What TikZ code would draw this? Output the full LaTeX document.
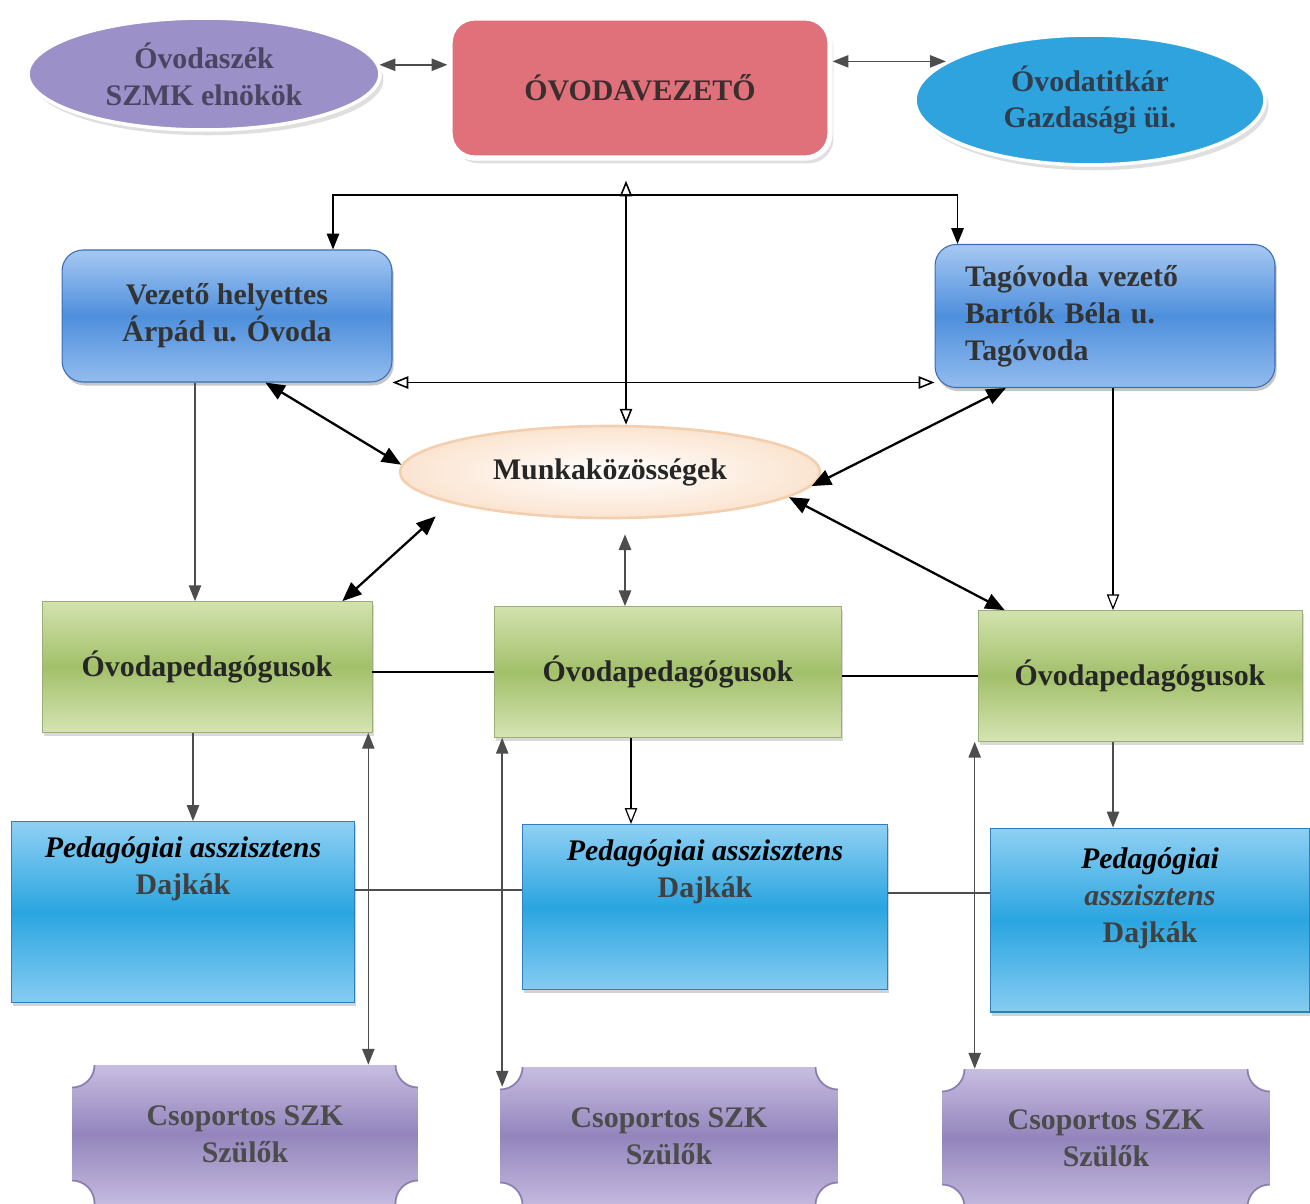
\documentclass[tikz,border=0pt]{standalone}
\usepackage{fontspec}
\setmainfont{Liberation Serif}
\usetikzlibrary{positioning,
        shapes,
        shadows,
        arrows.meta,
        calc}
\usepackage{xcolor}

\definecolor{szeklila}{HTML}{9C90C8}
\definecolor{szektext}{HTML}{4A4560}
\definecolor{vezred}{HTML}{E0717B}
\definecolor{veztext}{HTML}{3A2E2E}
\definecolor{titkkek}{HTML}{2FA3DD}
\definecolor{titktext}{HTML}{2E3E4E}
\definecolor{kektop}{HTML}{A6C8F2}
\definecolor{kekmid}{HTML}{4E8FDC}
\definecolor{kekbot}{HTML}{93BCEE}
\definecolor{kekedge}{HTML}{3A6DB5}
\definecolor{zoldtop}{HTML}{D3E2AE}
\definecolor{zoldmid}{HTML}{A2C06A}
\definecolor{zoldbot}{HTML}{D6E4B4}
\definecolor{zoldedge}{HTML}{9AAE78}
\definecolor{assztop}{HTML}{8FD0F3}
\definecolor{asszmid}{HTML}{2AA5E0}
\definecolor{asszbot}{HTML}{86CCF1}
\definecolor{asszedge}{HTML}{2F7FC0}
\definecolor{szulotop}{HTML}{C8BDE1}
\definecolor{szulomid}{HTML}{9385BC}
\definecolor{szulobot}{HTML}{C4B9DE}
\definecolor{szuloedge}{HTML}{8A7FB0}
\definecolor{munkaglow}{HTML}{FBE4D0}
\definecolor{munkaszel}{HTML}{F3CFAF}
\definecolor{vonal}{HTML}{4D4D4D}

\newcommand{\fent}[2]{\parbox[c][#1][t]{6.2cm}{\centering #2}}

\begin{document}
\begin{tikzpicture}[x=0.02cm, y=-0.02cm,
        every node/.style={font=\fontsize{17}{21}\selectfont\bfseries, align=center, inner sep=0pt},
        oval/.style={ellipse, draw=white, line width=2pt,
                drop shadow={opacity=0.25, shadow xshift=2pt, shadow yshift=-3pt}},
        fonok/.style={rectangle, rounded corners=14pt, fill=vezred, draw=white, line width=3pt,
                drop shadow={opacity=0.25, shadow xshift=2pt, shadow yshift=-3pt}},
        kekbox/.style={rectangle, rounded corners=12pt, draw=kekedge, line width=0.6pt,
                top color=kektop, bottom color=kekbot, middle color=kekmid, text=black!80,
                drop shadow={opacity=0.45, shadow xshift=1pt, shadow yshift=-2pt}},
        munkaoval/.style={ellipse, minimum width=8.4cm, minimum height=1.84cm,
                inner color=white, outer color=munkaglow, draw=munkaszel, line width=1.5pt, text=black!85},
        zoldbox/.style={rectangle, minimum height=2.62cm, draw=zoldedge, line width=0.4pt,
                top color=zoldtop, bottom color=zoldbot, middle color=zoldmid, text=black!85,
                drop shadow={opacity=0.3, shadow xshift=1pt, shadow yshift=-2pt}},
        asszbox/.style={rectangle, draw=asszedge, line width=0.6pt,
                top color=assztop, bottom color=asszbot, middle color=asszmid, text=black!75,
                drop shadow={opacity=0.35, shadow xshift=1pt, shadow yshift=-2pt}},
        szulobox/.style={rectangle, minimum height=2.76cm, draw=none,
                top color=szulotop, bottom color=szulobot, middle color=szulomid, text=black!70,
                path picture={\foreach \sarok in {north west, north east, south west, south east}
                        {\filldraw[fill=white, draw=szuloedge, line width=1pt]
                                (path picture bounding box.\sarok) circle[radius=0.45cm];}}},
        nyil/.style={draw=vonal, line width=0.8pt, -{Triangle[length=9pt, width=7pt]}},
        ketnyil/.style={draw=vonal, line width=0.8pt, {Triangle[length=9pt, width=7pt]}-{Triangle[length=9pt, width=7pt]}},
        feketenyil/.style={black, line width=1.3pt, {Triangle[length=11pt, width=9pt]}-{Triangle[length=11pt, width=9pt]}},
        uresnyil/.style={black, line width=0.7pt, -{Triangle[open, length=9pt, width=7pt]}},
        uresket/.style={black, line width=0.9pt, {Triangle[open, length=9pt, width=7pt]}-{Triangle[open, length=9pt, width=7pt]}},
        vonalka/.style={black, line width=1pt}]

        \useasboundingbox (0,0) rectangle (1310,1203);

        % vezetes
        \node [oval, fill=szeklila, minimum width=7.04cm, minimum height=2.24cm, text=szektext] (szek) at (204,74) {Óvodaszék\\SZMK elnökök};
        \node [fonok, minimum width=7.6cm, minimum height=2.8cm, text=veztext] (vez) at (640,88) {ÓVODAVEZETŐ};
        \node [oval, fill=titkkek, minimum width=7cm, minimum height=2.6cm, text=titktext] (titkar) at (1090,100) {Óvodatitkár\\Gazdasági üi.};

        \node [kekbox, minimum width=6.6cm, minimum height=2.64cm] (helyettes) at (227,316) {Vezető helyettes\\Árpád u. Óvoda};
        \node [kekbox, minimum width=6.8cm, minimum height=2.86cm, text width=5.6cm, align=left] (tag) at (1105,316) {Tagóvoda vezető\\Bartók Béla u.\\Tagóvoda};

        \node [munkaoval] (munka) at (610,472) {Munkaközösségek};

        % csoportok
        \node [zoldbox, minimum width=6.6cm] (ovp1) at (207,667) {Óvodapedagógusok};
        \node [zoldbox, minimum width=6.94cm] (ovp2) at (668,672) {Óvodapedagógusok};
        \node [zoldbox, minimum width=6.48cm] (ovp3) at (1140,676) {Óvodapedagógusok};

        \node [asszbox, minimum width=6.86cm, minimum height=3.62cm] (assz1) at (183,912) {\fent{3.0cm}{{\color{black}\itshape Pedagógiai asszisztens}\\Dajkák}};
        \node [asszbox, minimum width=7.3cm, minimum height=3.3cm] (assz2) at (705,907) {\fent{2.7cm}{{\color{black}\itshape Pedagógiai asszisztens}\\Dajkák}};
        \node [asszbox, minimum width=6.4cm, minimum height=3.68cm] (assz3) at (1150,920) {\fent{2.88cm}{{\color{black}\itshape Pedagógiai}\\{\itshape asszisztens}\\Dajkák}};

        \node [szulobox, minimum width=6.92cm] (szulo1) at (245,1134) {Csoportos SZK\\Szülők};
        \node [szulobox, minimum width=6.76cm] (szulo2) at (669,1136) {Csoportos SZK\\Szülők};
        \node [szulobox, minimum width=6.56cm] (szulo3) at (1106,1138) {Csoportos SZK\\Szülők};

        \draw [ketnyil] (szek.3) -- (szek.3 -| vez.west);
        \draw [ketnyil] (vez.east |- titkar.165) -- (titkar.165);

        \coordinate (split) at ($(vez.south)+(-14,34)$);
        \draw [uresket] ($(vez.south)+(-14,20)$) -- ($(vez.south |- munka.north)+(-14,0)$);
        \draw [vonalka, -{Triangle[length=9pt, width=7pt]}] (split) -| ($(helyettes.north)+(106,0)$);
        \draw [vonalka, -{Triangle[length=9pt, width=7pt]}] (split) -| ($(tag.north west)+(23,0)$);
        \draw [uresket] (helyettes.south east) -- (helyettes.south east -| tag.west);

        \draw [feketenyil] (helyettes.-60) -- (munka.178);
        \draw [feketenyil] (tag.216) -- (munka.-4);
        \draw [feketenyil] ($(ovp1.north east)+(-30,0)$) -- ($(munka.west |- munka.south)+(37,-3)$);
        \draw [ketnyil, line width=1.2pt] ($(munka.south)+(15,15)$) -- ($(munka.south |- ovp2.north)+(15,0)$);
        \draw [feketenyil] (munka.-8) -- ($(ovp3.north west)+(27,0)$);

        \draw [nyil] ($(helyettes.south)+(-32,0)$) -- ($(helyettes.south |- ovp1.north)+(-32,0)$);
        \draw [uresnyil] ($(tag.south)+(8,0)$) -- ($(tag.south |- ovp3.north)+(8,0)$);

        \draw [vonalka] (ovp2.west -| ovp1.east) -- (ovp2.west);
        \draw [vonalka] (ovp3.west -| ovp2.east) -- (ovp3.west);

        \draw [nyil] ($(ovp1.south)+(-14,0)$) -- ($(ovp1.south |- assz1.north)+(-14,0)$);
        \draw [uresnyil] ($(ovp2.south)+(-37,0)$) -- ($(ovp2.south |- assz2.north)+(-37,0)$);
        \draw [nyil] ($(ovp3.south)+(-27,0)$) -- ($(ovp3.south |- assz3.north)+(-27,0)$);

        \draw [draw=vonal, line width=1pt] ($(assz1.east)+(0,-22)$) -- ($(assz1.east -| assz2.west)+(0,-22)$);
        \draw [draw=vonal, line width=1pt] ($(assz2.east)+(0,-14)$) -- ($(assz2.east -| assz3.west)+(0,-14)$);

        \draw [ketnyil] ($(ovp1.south east)+(-4,0)$) -- ($(ovp1.south east |- szulo1.north)+(-4,0)$);
        \draw [ketnyil] ($(ovp2.south west)+(8,0)$) -- ($(ovp2.south west |- szulo2.north)+(8,20)$);
        \draw [ketnyil] ($(ovp3.south west)+(-3,0)$) -- ($(ovp3.south west |- szulo3.north)+(-3,0)$);
\end{tikzpicture}
\end{document}
